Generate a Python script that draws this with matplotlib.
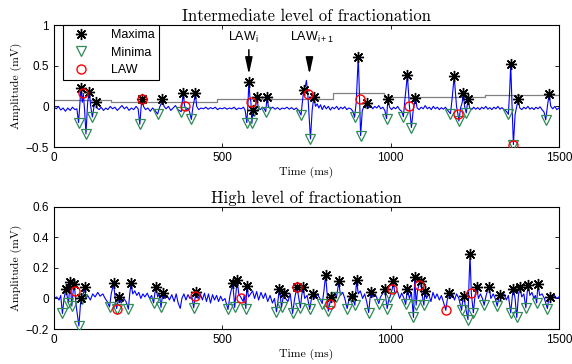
import numpy as np
import matplotlib
matplotlib.use('Agg')
import matplotlib.pyplot as plt

# ---- intermediate level (top panel) ----
top_t = [0, 7, 13, 20, 27, 34, 41, 48, 55, 62, 68, 73, 77, 80, 84, 87, 91, 95, 100, 105,
         109, 114, 119, 124, 128, 134, 140, 147, 154, 160, 167, 174, 181, 188, 195, 202, 209,
         216, 223, 230, 237, 244, 250, 255, 259, 262, 266, 272, 279, 286, 293, 300, 308, 313,
         318, 322, 327, 333, 340, 347, 354, 361, 368, 378, 381, 384, 388, 393, 398, 403, 408,
         413, 417, 420, 424, 430, 437, 444, 451, 458, 465, 472, 479, 486, 493, 500, 507, 514,
         521, 528, 535, 542, 549, 556, 563, 568, 573, 576, 579, 582, 585, 588, 591, 595, 599,
         603, 607, 613, 619, 625, 629, 633, 637, 643, 650, 657, 664, 671, 678, 685, 692, 699,
         706, 713, 720, 727, 734, 738, 742, 747, 750, 754, 762, 767, 772, 777, 782, 787, 792,
         797, 803, 809, 815, 821, 827, 833, 840, 846, 852, 858, 864, 870, 876, 882, 888, 893,
         898, 904, 908, 911, 916, 921, 926, 930, 935, 941, 947, 953, 959, 965, 971, 977, 983,
         988, 992, 997, 1003, 1009, 1015, 1021, 1027, 1033, 1038, 1043, 1050, 1056, 1062, 1068,
         1074, 1079, 1085, 1091, 1097, 1103, 1109, 1115, 1121, 1127, 1133, 1139, 1145, 1151,
         1157, 1163, 1170, 1178, 1183, 1189, 1196, 1200, 1203, 1208, 1213, 1216, 1220, 1225,
         1230, 1235, 1241, 1247, 1253, 1259, 1265, 1271, 1277, 1283, 1289, 1295, 1301, 1307,
         1313, 1319, 1325, 1331, 1337, 1344, 1350, 1354, 1357, 1361, 1365, 1370, 1375, 1379,
         1384, 1390, 1396, 1402, 1408, 1414, 1420, 1426, 1432, 1438, 1444, 1450, 1456, 1461,
         1466, 1471, 1476, 1482, 1488, 1494, 1500]
top_v = [-0.01, -0.03, 0.0, -0.045, -0.02, -0.06, -0.02, -0.05, -0.01, -0.04, -0.03, -0.20,
         0.05, 0.22, 0.05, 0.16, -0.05, -0.34, 0.05, 0.18, 0.0, -0.13, 0.0, 0.056, -0.02, -0.04,
         -0.01, -0.05, -0.02, -0.04, 0.0, -0.03, -0.01, -0.05, -0.02, 0.01, -0.03, -0.005, -0.05,
         -0.02, -0.04, 0.0, -0.03, -0.22, 0.0, 0.085, 0.0, -0.04, -0.02, -0.06, -0.02, -0.05,
         -0.095, -0.02, 0.03, 0.085, 0.0, -0.03, 0.0, -0.05, -0.02, 0.01, -0.04, -0.065, 0.05,
         0.16, 0.008, -0.05, -0.02, -0.07, -0.16, 0.0, 0.08, 0.16, 0.0, -0.04, -0.02, -0.03,
         -0.01, -0.035, -0.015, -0.03, -0.01, -0.04, -0.02, -0.03, -0.015, -0.035, -0.02, -0.03,
         -0.01, -0.04, -0.02, -0.03, -0.01, -0.05, -0.20, 0.0, 0.30, 0.12, 0.056, -0.21, -0.04,
         -0.06, 0.0, 0.11, -0.02, -0.04, -0.01, -0.03, -0.065, 0.11, 0.0, -0.03, -0.01, -0.035,
         -0.015, -0.04, -0.02, -0.03, -0.01, -0.035, -0.015, -0.04, -0.02, -0.05, -0.106, 0.05,
         0.207, 0.25, 0.32, 0.158, -0.40, -0.05, 0.117, 0.0, 0.03, -0.02, 0.02, -0.04, 0.01,
         -0.03, 0.0, -0.045, -0.01, -0.03, 0.0, -0.04, -0.01, -0.03, -0.005, -0.04, -0.02, -0.03,
         -0.06, -0.134, 0.05, 0.61, 0.085, -0.36, -0.05, 0.0, -0.02, 0.037, -0.02, 0.01, -0.03,
         0.0, -0.02, 0.01, -0.03, -0.01, -0.05, -0.15, 0.085, -0.01, -0.04, -0.01, -0.03, 0.0,
         -0.04, -0.06, -0.127, 0.1, 0.38, 0.004, -0.26, -0.02, 0.097, -0.02, -0.04, -0.01, -0.03,
         0.01, -0.03, -0.01, -0.04, 0.0, -0.03, -0.01, -0.04, -0.015, -0.035, -0.01, -0.05,
         -0.09, 0.1, 0.37, 0.0, -0.09, -0.18, -0.02, 0.05, 0.166, 0.0, -0.08, 0.09, -0.02, -0.04,
         -0.01, -0.035, -0.015, -0.04, -0.01, -0.03, 0.0, -0.035, -0.015, -0.04, -0.01, -0.03,
         0.0, -0.035, -0.015, -0.04, -0.06, -0.098, 0.2, 0.52, 0.0, -0.47, -0.1, 0.0, 0.085,
         -0.02, -0.04, -0.01, -0.03, 0.0, -0.035, -0.015, -0.04, -0.01, -0.03, -0.005, -0.04,
         -0.07, -0.167, 0.0, 0.15, 0.0, -0.03, 0.0, -0.04, -0.02]

top_max_t = [80, 105, 124, 262, 322, 384, 420, 579, 591, 603, 633, 742, 772, 904, 930, 992,
             1050, 1074, 1189, 1216, 1230, 1357, 1379, 1471]
top_max_v = [0.22, 0.18, 0.056, 0.085, 0.085, 0.16, 0.16, 0.30, -0.04, 0.11, 0.11, 0.207, 0.117,
             0.61, 0.037, 0.085, 0.38, 0.097, 0.37, 0.166, 0.09, 0.52, 0.085, 0.15]
top_min_t = [73, 95, 114, 255, 308, 378, 408, 573, 588, 595, 629, 734, 762, 893, 911, 988,
             1038, 1062, 1178, 1203, 1225, 1350, 1365, 1461]
top_min_v = [-0.20, -0.34, -0.13, -0.22, -0.095, -0.065, -0.16, -0.20, -0.21, -0.06, -0.065,
             -0.106, -0.40, -0.134, -0.36, -0.15, -0.127, -0.26, -0.09, -0.18, -0.08, -0.098,
             -0.47, -0.167]
top_law_t = [87, 262, 388, 585, 754, 908, 1056, 1200, 1365]
top_law_v = [0.16, 0.085, 0.008, 0.056, 0.158, 0.085, 0.004, -0.09, -0.47]

thr_t = [0, 170, 485, 655, 830, 980, 1280, 1500]
thr_v = [0.077, 0.058, 0.085, 0.095, 0.16, 0.11, 0.135, 0.135]

# ---- high level (bottom panel) ----
bot_t = [0, 8, 15, 20, 25, 30, 35, 43, 48, 53, 57, 60, 62, 66, 74, 78, 80, 83, 87, 91, 95, 100,
         108, 115, 122, 130, 137, 145, 152, 158, 165, 170, 177, 182, 186, 193, 200, 207, 214,
         221, 225, 229, 234, 240, 246, 252, 258, 264, 270, 277, 284, 290, 296, 300, 303, 308,
         313, 318, 321, 325, 330, 336, 343, 350, 357, 363, 369, 375, 380, 386, 392, 398, 404,
         410, 415, 420, 423, 428, 435, 441, 447, 453, 459, 465, 471, 477, 483, 489, 495, 501,
         508, 517, 523, 531, 535, 537, 541, 544, 549, 556, 562, 565, 570, 573, 578, 584, 590,
         596, 602, 608, 615, 622, 628, 635, 642, 649, 655, 661, 666, 670, 676, 683, 688, 695,
         702, 709, 715, 722, 726, 732, 736, 740, 745, 752, 760, 765, 769, 775, 782, 790, 797,
         802, 807, 812, 815, 819, 823, 832, 839, 843, 846, 851, 858, 864, 871, 877, 884, 889,
         894, 897, 899, 904, 910, 917, 923, 929, 935, 939, 942, 948, 954, 960, 965, 970, 976,
         982, 986, 990, 995, 998, 1003, 1005, 1008, 1013, 1020, 1027, 1033, 1040, 1045, 1050,
         1056, 1062, 1068, 1072, 1076, 1080, 1084, 1089, 1094, 1099, 1102, 1107, 1113, 1120,
         1126, 1132, 1138, 1145, 1151, 1158, 1164, 1169, 1173, 1178, 1184, 1190, 1196, 1203,
         1211, 1215, 1218, 1222, 1230, 1233, 1236, 1240, 1243, 1246, 1251, 1256, 1261, 1267,
         1273, 1278, 1284, 1288, 1293, 1298, 1305, 1311, 1317, 1321, 1324, 1330, 1337, 1344,
         1350, 1357, 1362, 1365, 1370, 1375, 1380, 1384, 1390, 1396, 1402, 1406, 1409, 1414,
         1420, 1426, 1430, 1434, 1438, 1443, 1450, 1457, 1466, 1470, 1474, 1480, 1487, 1494, 1500]
bot_v = [0.0, 0.01, -0.01, 0.02, -0.098, 0.0, 0.061, -0.029, 0.109, -0.05, 0.05, 0.092, 0.05,
         -0.05, -0.18, -0.05, 0.005, -0.005, 0.03, 0.072, 0.0, 0.02, -0.01, 0.03, 0.01, 0.04,
         0.015, 0.03, 0.0, -0.02, -0.055, 0.03, 0.098, 0.0, -0.066, 0.01, -0.03, 0.0, -0.02,
         -0.07, 0.03, 0.098, 0.03, 0.05, 0.02, 0.04, 0.0, 0.03, 0.01, 0.035, 0.0, 0.02, -0.029,
         0.04, 0.072, 0.01, 0.03, -0.059, 0.0, 0.033, 0.0, 0.02, -0.01, 0.025, -0.02, 0.03,
         -0.03, -0.065, 0.0, 0.03, -0.01, 0.025, 0.0, 0.01, -0.061, 0.015, 0.044, 0.0, 0.03,
         -0.01, 0.035, -0.02, 0.03, -0.03, 0.025, -0.01, 0.02, -0.02, 0.015, -0.015, 0.0, -0.072,
         0.02, 0.098, 0.0, -0.059, 0.05, 0.124, 0.03, 0.004, -0.02, 0.02, -0.066, 0.081, 0.01,
         0.03, 0.05, 0.0, 0.045, -0.01, 0.04, 0.0, 0.035, -0.02, 0.02, -0.03, 0.0, -0.088, 0.0,
         0.065, -0.059, 0.037, 0.0, -0.02, 0.03, -0.098, 0.0, 0.078, 0.02, -0.061, 0.02, 0.076,
         0.0, 0.02, -0.072, 0.0, 0.028, 0.0, 0.03, 0.0, -0.033, 0.05, 0.153, 0.02, -0.083,
         -0.037, 0.007, 0.03, 0.007, 0.06, 0.115, 0.02, 0.04, 0.0, -0.066, 0.0, 0.017, -0.01,
         -0.044, 0.06, 0.12, 0.03, 0.05, 0.0, 0.03, -0.02, -0.092, 0.0, 0.044, 0.01, 0.03, 0.0,
         -0.033, 0.01, 0.03, 0.059, 0.0, -0.066, 0.0, 0.007, 0.05, 0.061, 0.115, 0.03, 0.05, 0.0,
         0.035, 0.0, -0.039, 0.065, 0.0, 0.04, -0.124, 0.142, -0.044, 0.05, 0.087, 0.115, 0.02,
         -0.044, 0.048, 0.0, 0.03, -0.02, 0.04, 0.0, 0.03, -0.01, 0.02, -0.03, -0.077, 0.0,
         0.033, 0.0, 0.03, -0.01, 0.03, 0.0, -0.077, 0.0, 0.015, -0.05, -0.138, 0.1, 0.29, 0.033,
         -0.03, -0.094, 0.02, 0.076, 0.0, 0.03, 0.0, -0.044, 0.02, 0.05, 0.072, 0.0, 0.03, 0.0,
         -0.05, 0.0, 0.022, 0.0, 0.03, -0.01, 0.02, -0.094, 0.02, 0.059, 0.0, -0.124, 0.02, 0.076,
         0.01, 0.03, -0.061, 0.04, 0.087, 0.02, 0.04, 0.0, 0.02, -0.029, 0.092, 0.02, 0.03, 0.0,
         -0.066, 0.0, 0.007, -0.01, 0.02, 0.0, 0.01]

bot_max_t = [35, 48, 60, 80, 91, 177, 193, 229, 303, 325, 423, 531, 544, 573, 670, 683, 722,
             740, 769, 807, 823, 846, 884, 899, 942, 982, 1008, 1050, 1072, 1089, 1102, 1173,
             1218, 1236, 1256, 1293, 1324, 1365, 1384, 1409, 1438, 1474]
bot_max_v = [0.061, 0.109, 0.092, 0.005, 0.072, 0.098, 0.01, 0.098, 0.072, 0.033, 0.044, 0.098,
             0.124, 0.081, 0.065, 0.037, 0.078, 0.076, 0.028, 0.153, 0.007, 0.115, 0.017, 0.12,
             0.044, 0.059, 0.115, 0.065, 0.142, 0.115, 0.048, 0.033, 0.015, 0.29, 0.076, 0.072,
             0.022, 0.059, 0.076, 0.087, 0.092, 0.007]
bot_min_t = [25, 43, 53, 74, 83, 165, 186, 221, 296, 318, 415, 517, 537, 570, 661, 676, 709,
             732, 760, 797, 815, 839, 871, 894, 935, 965, 990, 998, 1045, 1068, 1076, 1099, 1211,
             1230, 1246, 1278, 1317, 1357, 1375, 1402, 1434, 1466]
bot_min_v = [-0.098, -0.029, -0.05, -0.18, -0.005, -0.055, -0.066, -0.07, -0.029, -0.059,
             -0.061, -0.072, -0.059, -0.066, -0.088, -0.059, -0.098, -0.061, -0.072, -0.033,
             -0.083, 0.007, -0.066, -0.044, -0.092, -0.033, -0.066, 0.007, -0.039, -0.124,
             -0.044, -0.044, -0.077, -0.138, -0.094, -0.044, -0.05, -0.094, -0.124, -0.061,
             -0.029, -0.066]
bot_law_t = [62, 186, 420, 556, 722, 819, 1005, 1084, 1164, 1240]
bot_law_v = [0.05, -0.066, 0.015, 0.004, 0.076, -0.037, 0.061, 0.087, -0.077, 0.033]

plt.rcParams['font.family'] = ['Liberation Sans', 'DejaVu Sans']
plt.rcParams['axes.unicode_minus'] = True
plt.rcParams['mathtext.fontset'] = 'custom'
plt.rcParams['mathtext.rm'] = 'Liberation Sans'

serif = 'cmr10'
star = (8, 2, 0)
green = '#2e8b57'

fig = plt.figure(figsize=(5.72, 3.64), dpi=100)
ax1 = fig.add_axes([0.0944, 0.596, 0.8826, 0.3353])
ax2 = fig.add_axes([0.0944, 0.096, 0.8826, 0.336])


def draw_panel(ax, t, v, mx_t, mx_v, mn_t, mn_v, lw_t, lw_v):
    ax.plot(t, v, color='b', lw=0.8, zorder=2)
    ax.plot(mx_t, mx_v, ls='none', marker=star, ms=8, mec='k', mew=1.0, color='k',
            label='Maxima', zorder=4)
    ax.plot(mn_t, mn_v, ls='none', marker='v', ms=6.5, mfc='none', mec=green, mew=0.9,
            label='Minima', zorder=3)
    ax.plot(lw_t, lw_v, ls='none', marker='o', ms=6.5, mfc='none', mec='r', mew=1.0,
            label='LAW', zorder=5)
    ax.set_xlim(0, 1500)
    ax.set_xticks([0, 500, 1000, 1500])
    ax.tick_params(direction='in', top=True, right=True, labelsize=8.5, length=3, width=0.6)
    for s in ax.spines.values():
        s.set_linewidth(0.8)
    ax.set_xlabel('Time (ms)', fontfamily=serif, fontsize=8.5, labelpad=2)
    ax.set_ylabel('Amplitude (mV)', fontfamily=serif, fontsize=8.5, labelpad=3)


draw_panel(ax1, top_t, top_v, top_max_t, top_max_v, top_min_t, top_min_v, top_law_t, top_law_v)
ax1.step(thr_t, thr_v, where='post', color='0.5', lw=0.9, zorder=1)
ax1.set_ylim(-0.5, 1)
ax1.set_yticks([-0.5, 0, 0.5, 1])
ax1.set_yticklabels(['\u22120.5', '0', '0.5', '1'])
ax1.set_title('Intermediate level of fractionation', fontfamily=serif, fontsize=12, pad=3)

leg = ax1.legend(loc='upper left', bbox_to_anchor=(0.017, 1.0), borderaxespad=0,
                 fancybox=False, edgecolor='k', fontsize=9, labelspacing=0.42,
                 handletextpad=1.3, handlelength=2.2, borderpad=0.35, framealpha=1)
leg.get_frame().set_linewidth(0.8)

arrow = dict(arrowstyle='-|>,head_width=0.22,head_length=1.0', color='k', lw=1.1)
ax1.annotate('', xy=(579, 0.36), xytext=(579, 0.73), arrowprops=arrow)
ax1.text(563, 0.76, 'LAW$_\\mathregular{i}$', ha='center', va='bottom', fontsize=9)
ax1.annotate('', xy=(759, 0.36), xytext=(759, 0.61), arrowprops=arrow)
ax1.text(766, 0.76, 'LAW$_\\mathregular{i+1}$', ha='center', va='bottom', fontsize=9)

draw_panel(ax2, bot_t, bot_v, bot_max_t, bot_max_v, bot_min_t, bot_min_v, bot_law_t, bot_law_v)
ax2.set_ylim(-0.2, 0.6)
ax2.set_yticks([-0.2, 0, 0.2, 0.4, 0.6])
ax2.set_yticklabels(['\u22120.2', '0', '0.2', '0.4', '0.6'])
ax2.set_title('High level of fractionation', fontfamily=serif, fontsize=12, pad=3)

fig.savefig('out.png', dpi=100)
